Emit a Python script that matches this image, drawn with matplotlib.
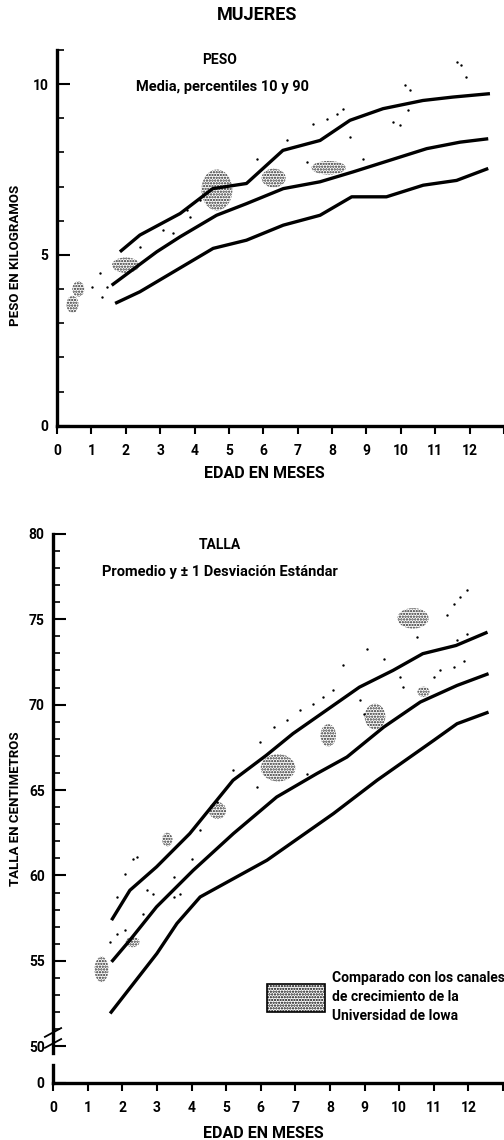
import matplotlib
matplotlib.use('Agg')
import matplotlib.pyplot as plt
from matplotlib.patches import Ellipse, Patch
from matplotlib.ticker import FixedLocator

plt.rcParams['font.family'] = ['Roboto', 'DejaVu Sans']
plt.rcParams['font.weight'] = 'bold'
plt.rcParams['axes.labelweight'] = 'bold'
plt.rcParams['hatch.linewidth'] = 1.1

# eje x comun
meses = list(range(14))
etiquetas_meses = [str(m) for m in range(13)] + ['']

# ---- PESO (kg): percentil 90, media, percentil 10
p90_x = [1.83, 2.41, 3.58, 4.53, 5.51, 6.57, 7.65, 8.52, 9.48, 10.64, 11.51, 12.59]
p90_y = [5.09, 5.58, 6.21, 6.94, 7.09, 8.06, 8.35, 8.94, 9.28, 9.52, 9.62, 9.72]
pmed_x = [1.59, 2.90, 3.58, 4.64, 5.51, 6.58, 7.65, 8.61, 9.68, 10.75, 11.72, 12.54]
pmed_y = [4.11, 5.09, 5.53, 6.16, 6.50, 6.94, 7.14, 7.43, 7.77, 8.11, 8.30, 8.40]
p10_x = [1.69, 2.41, 4.54, 5.51, 6.58, 7.65, 8.57, 9.58, 10.65, 11.62, 12.54]
p10_y = [3.58, 3.92, 5.19, 5.43, 5.87, 6.16, 6.70, 6.70, 7.04, 7.18, 7.53]

# zonas Iowa (peso): centro y tamano en meses / kg
iowa_peso_x = [0.45, 0.62, 2.0, 4.65, 6.3, 7.9]
iowa_peso_y = [3.55, 4.0, 4.7, 6.9, 7.25, 7.55]
iowa_peso_w = [0.35, 0.35, 0.8, 0.9, 0.7, 1.0]
iowa_peso_h = [0.5, 0.45, 0.45, 1.2, 0.55, 0.4]

puntos_peso_x = [1.25, 1.44, 1.01, 1.30, 2.41, 3.09, 3.38, 3.87, 4.16, 3.77, 5.81, 6.68,
                 7.26, 7.45, 7.84, 8.13, 8.32, 8.52, 8.90, 9.78, 9.97, 10.21, 10.12,
                 10.26, 11.62, 11.76, 11.89]
puntos_peso_y = [4.46, 4.07, 4.07, 3.77, 5.23, 5.72, 5.63, 6.11, 6.60, 6.31, 7.82, 8.35,
                 7.72, 8.84, 8.99, 9.13, 9.28, 8.45, 7.82, 8.89, 8.79, 9.23, 9.96,
                 9.82, 10.64, 10.55, 10.20]

# ---- TALLA (cm): +1 DE, promedio, -1 DE
tds_x = [1.69, 2.22, 2.99, 3.95, 5.20, 6.16, 6.93, 7.89, 8.85, 9.82, 10.68, 11.64, 12.55]
tds_y = [57.38, 59.13, 60.50, 62.45, 65.57, 67.03, 68.30, 69.66, 71.02, 72.00, 72.98, 73.46, 74.24]
tmed_x = [1.69, 2.22, 2.99, 4.05, 5.21, 6.46, 7.62, 8.49, 9.55, 10.61, 11.67, 12.58]
tmed_y = [54.94, 56.21, 58.16, 60.30, 62.45, 64.59, 65.96, 66.93, 68.68, 70.15, 71.12, 71.81]
tmds_x = [1.65, 3.00, 3.58, 4.25, 6.18, 8.10, 9.36, 11.0, 11.67, 12.58]
tmds_y = [51.92, 55.43, 57.19, 58.74, 60.89, 63.62, 65.57, 67.91, 68.88, 69.56]

iowa_talla_x = [1.4, 2.3, 3.3, 4.75, 6.5, 7.95, 9.3, 10.4, 10.7]
iowa_talla_y = [54.5, 56.1, 62.1, 63.8, 66.3, 68.2, 69.3, 75.05, 70.75]
iowa_talla_w = [0.4, 0.4, 0.3, 0.5, 1.0, 0.45, 0.6, 0.9, 0.35]
iowa_talla_h = [1.5, 0.6, 0.8, 1.0, 1.6, 1.3, 1.5, 1.2, 0.6]

puntos_talla_x = [1.65, 1.84, 2.08, 1.84, 2.08, 2.32, 2.42, 2.61, 2.71, 2.90, 3.48, 3.48,
                  3.67, 4.01, 4.25, 5.21, 4.73, 5.89, 7.33, 5.98, 6.37, 6.75, 7.14, 7.52,
                  7.81, 8.10, 8.39, 9.06, 9.55, 8.87, 8.97, 10.03, 10.12, 10.99, 11.18,
                  11.57, 11.86, 11.95, 11.67, 11.38, 11.57, 11.76, 11.95, 10.51]
puntos_talla_y = [56.1, 56.6, 56.8, 58.74, 60.1, 60.99, 61.08, 57.77, 59.13, 58.94, 59.91,
                  58.74, 58.94, 60.99, 62.64, 66.15, 64.30, 65.18, 65.96, 67.81, 68.68,
                  69.08, 69.66, 70.05, 70.44, 70.83, 72.29, 73.27, 72.68, 70.25, 69.47,
                  71.61, 71.02, 71.61, 72.00, 72.19, 72.58, 74.15, 73.76, 75.22, 75.90,
                  76.29, 76.68, 73.95]


def zonas(ax, xs, ys, ws, hs):
    for cx, cy, w, h in zip(xs, ys, ws, hs):
        ax.add_patch(Ellipse((cx, cy), w, h, facecolor='none', edgecolor='0.15',
                             hatch='......', lw=0))


def ejes(ax):
    for s in ['top', 'right']:
        ax.spines[s].set_visible(False)
    for s in ['left', 'bottom']:
        ax.spines[s].set_linewidth(2.4)
    ax.set_xlim(0, 13)
    ax.set_xticks(meses)
    ax.set_xticklabels(etiquetas_meses)
    ax.tick_params(axis='x', direction='out', length=6, width=1.5, pad=7, labelsize=10)
    ax.tick_params(axis='y', which='major', direction='in', length=9, width=1.5, pad=6,
                   labelsize=10)
    ax.tick_params(axis='y', which='minor', direction='in', length=5, width=1.2)


fig = plt.figure(figsize=(5.04, 11.4), dpi=100)
fig.text(0.51, 0.987, 'MUJERES', ha='center', va='center', fontsize=13, fontweight='bold')

# ---------------- PESO
ax1 = fig.add_axes([0.1131, 0.6266, 0.887, 0.3296])
ejes(ax1)
ax1.set_ylim(0, 11)
ax1.set_yticks([0, 5, 10])
ax1.yaxis.set_minor_locator(FixedLocator(range(0, 12)))
zonas(ax1, iowa_peso_x, iowa_peso_y, iowa_peso_w, iowa_peso_h)
ax1.scatter(puntos_peso_x, puntos_peso_y, s=3, color='k', lw=0)
for xs, ys in [(p90_x, p90_y), (pmed_x, pmed_y), (p10_x, p10_y)]:
    ax1.plot(xs, ys, color='k', lw=2.4, solid_capstyle='butt')
ax1.text(4.74, 10.7, 'PESO', ha='center', va='center', fontsize=10)
ax1.text(4.81, 9.91, 'Media, percentiles 10 y 90', ha='center', va='center', fontsize=10.5)
ax1.set_ylabel('PESO EN KILOGRAMOS', fontsize=9.5)
ax1.yaxis.set_label_coords(-0.078, 0.454)
ax1.set_xlabel('EDAD EN MESES', fontsize=11.5)
ax1.xaxis.set_label_coords(0.463, -0.106)

# ---------------- TALLA
ax2 = fig.add_axes([0.1052, 0.05, 0.893, 0.4818])
ejes(ax2)
y0 = 47.85
ax2.set_ylim(y0, 80)
ax2.set_yticks([y0, 50, 55, 60, 65, 70, 75, 80])
ax2.set_yticklabels(['0', '50', '55', '60', '65', '70', '75', '80'])
ax2.yaxis.set_minor_locator(FixedLocator(range(50, 81)))
ax2.spines['left'].set_bounds(49.6, 80)
ax2.plot([0, 0], [y0, 48.9], color='k', lw=2.4, clip_on=False)
for yy in [0.072, 0.092]:
    ax2.plot([-0.018, 0.018], [yy - 0.008, yy + 0.008], transform=ax2.transAxes,
             color='k', lw=1.3, clip_on=False)
zonas(ax2, iowa_talla_x, iowa_talla_y, iowa_talla_w, iowa_talla_h)
ax2.scatter(puntos_talla_x, puntos_talla_y, s=3, color='k', lw=0)
for xs, ys in [(tds_x, tds_y), (tmed_x, tmed_y), (tmds_x, tmds_y)]:
    ax2.plot(xs, ys, color='k', lw=2.4, solid_capstyle='butt')
ax2.text(4.83, 79.37, 'TALLA', ha='center', va='center', fontsize=10)
ax2.text(4.83, 77.75, 'Promedio y ± 1 Desviación Estándar', ha='center', va='center',
         fontsize=10.5)
ax2.set_ylabel('TALLA EN CENTIMETROS', fontsize=9.5)
ax2.yaxis.set_label_coords(-0.07, 0.5)
ax2.set_xlabel('EDAD EN MESES', fontsize=11.5)
ax2.xaxis.set_label_coords(0.467, -0.079)

parche = Patch(facecolor='white', edgecolor='black', hatch='......', lw=1.2)
leg = ax2.legend([parche], ['Comparado con los canales\nde crecimiento de la\nUniversidad de Iowa'],
                 loc='center left', bbox_to_anchor=(0.4756, 0.1566), frameon=False,
                 borderpad=0, borderaxespad=0, handlelength=4.2, handleheight=2.75,
                 handletextpad=0.45, fontsize=10)
for t in leg.get_texts():
    t.set_linespacing(1.45)

fig.savefig('out.png', dpi=100)
